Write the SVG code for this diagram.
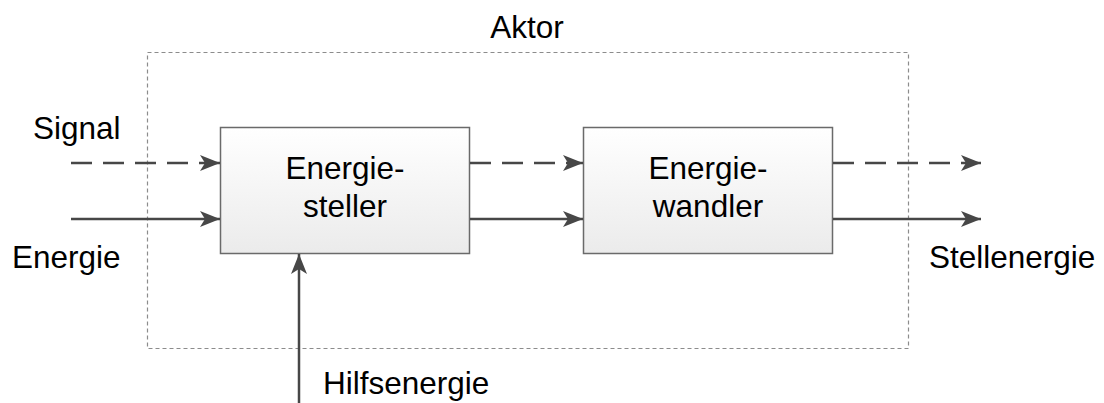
<svg xmlns="http://www.w3.org/2000/svg" width="1104" height="403" viewBox="0 0 1104 403">
  <style>
    text { font-family: "Liberation Sans", Arial, sans-serif; font-size: 31.5px; fill: #000; }
    .box { fill: url(#boxFill); stroke: #6a6a6a; stroke-width: 1.5; }
    .flow { stroke: #474747; stroke-width: 2.5; fill: none; }
    .dash { stroke-dasharray: 21 11; }
    .frame { fill: none; stroke: #8c8c8c; stroke-width: 1.2; stroke-dasharray: 4 3; }
  </style>
  <defs>
    <linearGradient id="boxFill" x1="0" y1="0" x2="0" y2="1">
      <stop offset="0" stop-color="#ffffff"/>
      <stop offset="1" stop-color="#ebebeb"/>
    </linearGradient>
    <marker id="head" markerUnits="userSpaceOnUse" markerWidth="20" markerHeight="16" refX="20" refY="8" orient="auto">
      <path d="M0,0 L20,8 L0,16 L5,8 Z" fill="#474747"/>
    </marker>
  </defs>

  <!-- actuator boundary -->
  <g id="aktor">
    <rect class="frame" x="147.5" y="52.5" width="761" height="296"/>
    <text x="527" y="38" text-anchor="middle">Aktor</text>
  </g>

  <g id="energiesteller">
    <rect class="box" x="220.5" y="127.5" width="249" height="126"/>
    <text x="345" y="179" text-anchor="middle">Energie-</text>
    <text x="345" y="217" text-anchor="middle">steller</text>
  </g>

  <g id="energiewandler">
    <rect class="box" x="583.5" y="127.5" width="249" height="126"/>
    <text x="708" y="179" text-anchor="middle">Energie-</text>
    <text x="708" y="217" text-anchor="middle">wandler</text>
  </g>

  <g id="labels">
    <text x="33" y="139">Signal</text>
    <text x="12" y="268">Energie</text>
    <text x="929" y="268">Stellenergie</text>
    <text x="323" y="394">Hilfsenergie</text>
  </g>

  <g id="connectors">
    <line class="flow dash" x1="71" y1="163" x2="220" y2="163" marker-end="url(#head)"/>
    <line class="flow" x1="71" y1="219" x2="220" y2="219" marker-end="url(#head)"/>
    <line class="flow dash" x1="470" y1="163" x2="583" y2="163" marker-end="url(#head)"/>
    <line class="flow" x1="470" y1="219" x2="583" y2="219" marker-end="url(#head)"/>
    <line class="flow dash" x1="833" y1="163" x2="981" y2="163" marker-end="url(#head)"/>
    <line class="flow" x1="833" y1="219" x2="981" y2="219" marker-end="url(#head)"/>
    <line class="flow" x1="299" y1="403" x2="299" y2="254" marker-end="url(#head)"/>
  </g>
</svg>
